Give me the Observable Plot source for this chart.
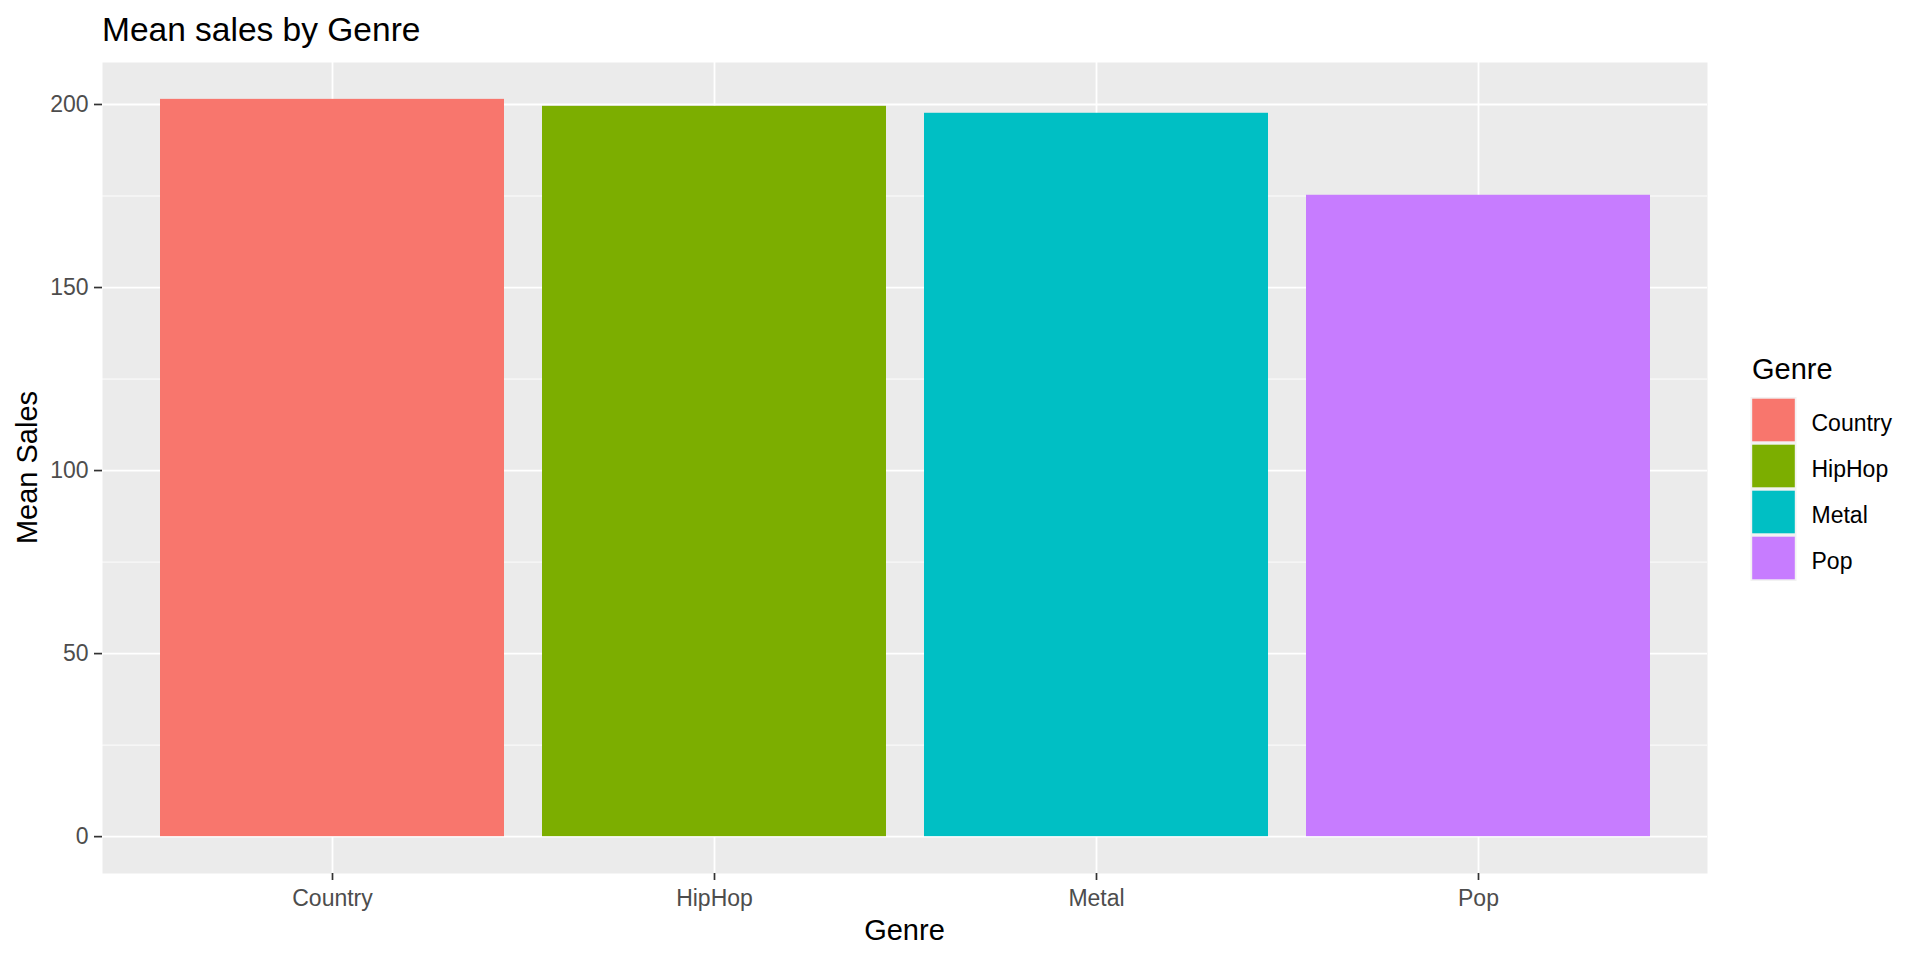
<!DOCTYPE html>
<html>
<head>
<meta charset="utf-8">
<script src="https://cdn.jsdelivr.net/npm/d3@7"></script>
<script src="https://cdn.jsdelivr.net/npm/@observablehq/plot@0.6"></script>
<style>
  html, body { margin: 0; padding: 0; background: #ffffff; }
  #wrap { position: relative; width: 1920px; height: 960px; font-family: "Liberation Sans", Arial, sans-serif; }
  #overlay { position: absolute; left: 0; top: 0; pointer-events: none; }
</style>
</head>
<body>
<div id="wrap"></div>
<script>
// ---- data ----
const genres = ["Country", "HipHop", "Metal", "Pop"];
const meanSales = [201.4, 199.5, 197.6, 175.2];
const genreColors = ["#F8766D", "#7CAE00", "#00BFC4", "#C77CFF"];
const yTicks = [0, 50, 100, 150, 200];
const yMinorTicks = [25, 75, 125, 175];
const titleText = "Mean sales by Genre";
const xTitle = "Genre";
const yTitle = "Mean Sales";
const legendTitle = "Genre";

const data = genres.map((g, i) => ({genre: g, sales: meanSales[i]}));

// ggplot-style 5% expansion of the continuous axis
const ymax = d3.max(meanSales);
const yDomain = [-0.05 * ymax, ymax * 1.05];

const W = 1920, H = 960;
const mTop = 62, mBottom = 87, mLeft = 102, mRight = 213;
const font = "'Liberation Sans', Arial, sans-serif";

const chart = Plot.plot({
  width: W,
  height: H,
  marginTop: mTop,
  marginBottom: mBottom,
  marginLeft: mLeft,
  marginRight: mRight,
  style: {fontFamily: font, background: "transparent", overflow: "visible"},
  x: {domain: genres, paddingInner: 0.1, paddingOuter: 0.15, align: 0.5, label: null},
  y: {domain: yDomain, label: null},
  color: {domain: genres, range: genreColors},
  marks: [
    Plot.frame({fill: "#EBEBEB", stroke: null}),
    Plot.gridY({ticks: yMinorTicks, stroke: "#ffffff", strokeOpacity: 1, strokeWidth: 0.9}),
    Plot.gridY({ticks: yTicks, stroke: "#ffffff", strokeOpacity: 1, strokeWidth: 1.8}),
    Plot.gridX({stroke: "#ffffff", strokeOpacity: 1, strokeWidth: 1.8}),
    Plot.barY(data, {x: "genre", y: "sales", fill: "genre"}),
    Plot.axisX({tickSize: 7, tickPadding: 9, fontSize: 23, stroke: "#333333", fill: "#4D4D4D", strokeWidth: 1.7, label: null}),
    Plot.axisY({ticks: yTicks, tickSize: 8, tickPadding: 6, fontSize: 23, stroke: "#333333", fill: "#4D4D4D", strokeWidth: 1.7, label: null})
  ]
});

const wrap = document.getElementById("wrap");
wrap.appendChild(chart);

// ---- overlay: titles and legend ----
const svg = d3.select(wrap).append("svg")
  .attr("id", "overlay")
  .attr("width", W).attr("height", H)
  .style("font-family", font);

svg.append("text").attr("x", mLeft).attr("y", 41)
  .attr("font-size", 33.5).attr("fill", "#000").text(titleText);

svg.append("text").attr("x", (mLeft + (W - mRight)) / 2).attr("y", 940)
  .attr("text-anchor", "middle").attr("font-size", 29).attr("fill", "#000").text(xTitle);

svg.append("text")
  .attr("transform", `translate(37,${(mTop + (H - mBottom)) / 2}) rotate(-90)`)
  .attr("text-anchor", "middle").attr("font-size", 29).attr("fill", "#000").text(yTitle);

const lg = svg.append("g");
lg.append("text").attr("x", 1752).attr("y", 379).attr("font-size", 29).attr("fill", "#000").text(legendTitle);
const key = 46, keyX = 1750.5, keyY = 397;
genres.forEach((g, i) => {
  const y0 = keyY + i * key;
  lg.append("rect").attr("x", keyX).attr("y", y0).attr("width", key).attr("height", key).attr("fill", "#F2F2F2");
  lg.append("rect").attr("x", keyX + 1.7).attr("y", y0 + 1.7).attr("width", key - 3.4).attr("height", key - 3.4).attr("fill", genreColors[i]);
  lg.append("text").attr("x", 1811.5).attr("y", y0 + key / 2 + 10.5).attr("font-size", 23).attr("fill", "#000").text(g);
});
</script>
</body>
</html>
